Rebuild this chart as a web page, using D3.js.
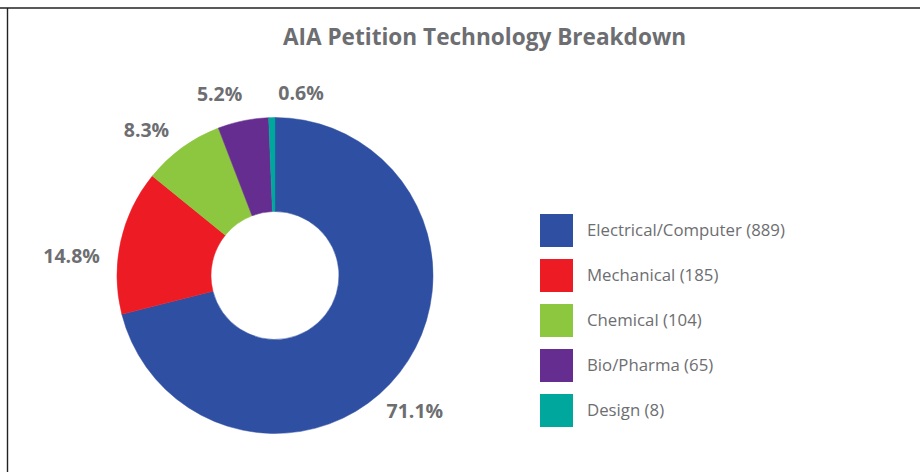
<!DOCTYPE html>
<html>
<head>
<meta charset="utf-8">
<script src="https://cdn.jsdelivr.net/npm/d3@7"></script>
<style>
  html, body { margin: 0; padding: 0; background: #fff; }
  svg { display: block; font-family: "Open Sans", "Noto Sans", sans-serif; }
</style>
</head>
<body>
<svg id="chart" width="920" height="472"></svg>
<script>
// chart data
const categories = ['Electrical/Computer', 'Mechanical', 'Chemical', 'Bio/Pharma', 'Design'];
const counts     = [889, 185, 104, 65, 8];
const colors     = ['#2e4fa2', '#ed1c24', '#8dc63f', '#662d91', '#00a79d'];
const title      = 'AIA Petition Technology Breakdown';

// label nudges off the label arc (layout only)
const labelNudge = [[-14, 16], [-13, 22], [-14, 12], [-16, 9], [30, 12]];

const TEXT_GRAY = '#6d6e71';
const W = 920, H = 472;
const cx = 275, cy = 275.5;
const outerR = 158, innerR = 64, labelR = 195;

const svg = d3.select('#chart');

// frame: top and left rule
svg.append('line')
    .attr('x1', 0).attr('x2', W).attr('y1', 8).attr('y2', 8)
    .attr('stroke', '#222').attr('stroke-width', 1.6);
svg.append('line')
    .attr('x1', 7.5).attr('x2', 7.5).attr('y1', 8).attr('y2', H)
    .attr('stroke', '#222').attr('stroke-width', 1.4);

// title
svg.append('text')
    .attr('x', 484.5).attr('y', 44.5)
    .attr('text-anchor', 'middle')
    .attr('fill', TEXT_GRAY)
    .attr('font-size', 22.6)
    .attr('font-weight', 700)
    .text(title);

const total = d3.sum(counts);
const data = categories.map((c, i) => ({ name: c, value: counts[i], color: colors[i] }));

const pie = d3.pie().sort(null).value(d => d.value).startAngle(0).endAngle(2 * Math.PI);
const arcs = pie(data);

const arc = d3.arc().innerRadius(innerR).outerRadius(outerR);
const labelArc = d3.arc().innerRadius(labelR).outerRadius(labelR);

const g = svg.append('g').attr('transform', `translate(${cx},${cy})`);

g.selectAll('path.slice')
    .data(arcs)
    .join('path')
    .attr('class', 'slice')
    .attr('d', arc)
    .attr('fill', d => d.data.color)
    .attr('stroke', d => d.data.color)
    .attr('stroke-width', 0.5);

const pct = d3.format('.1f');
g.selectAll('text.pct')
    .data(arcs)
    .join('text')
    .attr('class', 'pct')
    .attr('transform', (d, i) => {
        const [x, y] = labelArc.centroid(d);
        return `translate(${x + labelNudge[i][0]},${y + labelNudge[i][1]})`;
    })
    .attr('dy', '0.36em')
    .attr('text-anchor', 'middle')
    .attr('fill', TEXT_GRAY)
    .attr('font-size', 19.5)
    .attr('font-weight', 700)
    .text(d => pct(d.data.value / total * 100) + '%');

// legend
const legendY = d3.scaleBand()
    .domain(categories)
    .range([214, 214 + 45 * categories.length])
    .paddingInner(0);

const legend = svg.append('g').attr('class', 'legend');
const items = legend.selectAll('g')
    .data(data)
    .join('g')
    .attr('transform', d => `translate(540,${legendY(d.name)})`);

items.append('rect')
    .attr('width', 33).attr('height', 33)
    .attr('fill', d => d.color);

items.append('text')
    .attr('x', 47).attr('y', 16.5)
    .attr('dy', '0.35em')
    .attr('fill', TEXT_GRAY)
    .attr('font-size', 16.8)
    .text(d => `${d.name} (${d.value})`);
</script>
</body>
</html>
